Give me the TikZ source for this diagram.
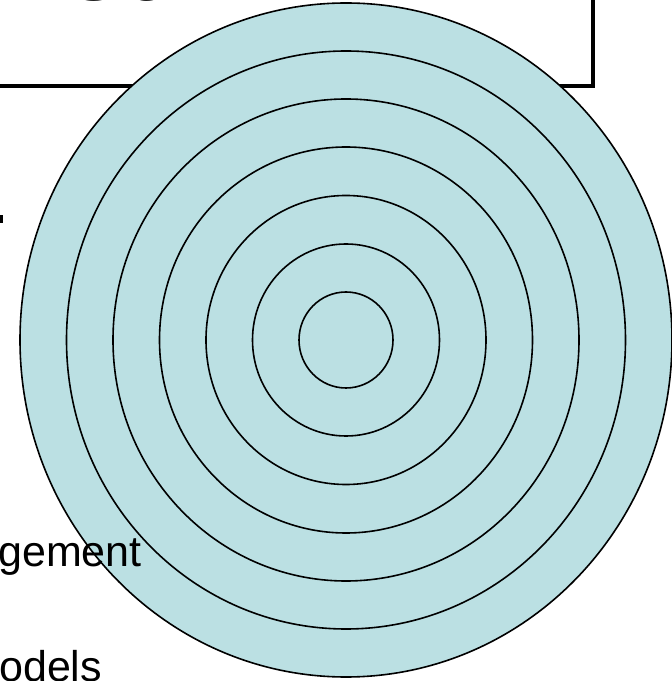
\documentclass[tikz,border=0pt]{standalone}
\usepackage{graphicx}
\usepackage{fontspec}
\setmainfont{Liberation Sans}
\definecolor{ringfill}{RGB}{187,224,227}
\tikzset{
  ring/.style={draw=black, line width=1.6pt},
  bodytext/.style={anchor=base west, inner sep=0pt, font=\fontsize{43}{43}\selectfont},
  titletext/.style={anchor=base west, inner sep=0pt, font=\bfseries\fontsize{90}{90}\selectfont},
  titlebox/.style={draw=black, line width=3.5pt}
}
\begin{document}
\begin{tikzpicture}[x=1pt,y=1pt]
\useasboundingbox (0,0) rectangle (672,681);
\clip (0,0) rectangle (672,681);
% title box (mostly outside the picture)
\node[titletext] (title) at (-16,680) {\scalebox{1.15}[1]{ized}};
\draw[titlebox] (-20,595) -- (593,595) -- (593,700);
% bullet text fragment
\fill (0,458) rectangle (3,466);
% concentric rings
\coordinate (c) at (346,341);
\fill[ringfill] (c) ellipse [x radius=326, y radius=337];
\foreach \rx/\ry in {326/337, 279.5/289, 233/241, 186.5/193, 140/144.5, 93.5/96, 47/48}{
  \draw[ring] (c) ellipse [x radius=\rx, y radius=\ry];
}
% bullet texts (drawn over the rings)
\node[bodytext] (t1) at (-2,114) {gement};
\node[bodytext] (t2) at (-1,0) {odels};
\end{tikzpicture}
\end{document}
